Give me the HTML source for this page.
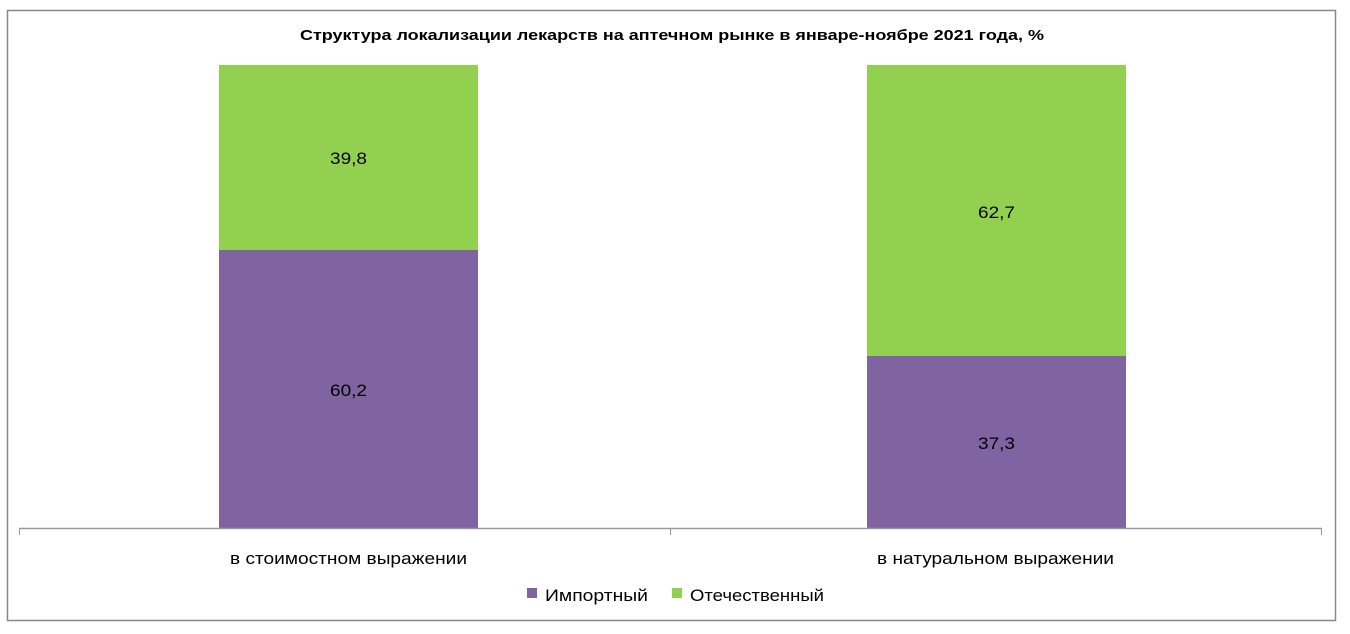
<!DOCTYPE html>
<html><head><meta charset="utf-8"><style>
body{margin:0;background:#fff;}
svg text{font-family:"Liberation Sans",sans-serif;}
</style></head><body>
<svg width="1350" height="629" xmlns="http://www.w3.org/2000/svg">
<rect x="7.5" y="10.5" width="1328" height="610" fill="#fff" stroke="#888" stroke-width="1.5"/>
<text x="300" y="40" textLength="744" lengthAdjust="spacingAndGlyphs" font-size="15" font-weight="bold" fill="#000">Структура локализации лекарств на аптечном рынке в январе-ноябре 2021 года, %</text>
<rect x="219" y="65" width="259" height="185" fill="#92d050"/>
<rect x="219" y="250" width="259" height="278" fill="#8064a2"/>
<rect x="867" y="65" width="259" height="291" fill="#92d050"/>
<rect x="867" y="356" width="259" height="172" fill="#8064a2"/>
<line x1="19" y1="528.5" x2="1322" y2="528.5" stroke="#999" stroke-width="1.5"/>
<line x1="19.5" y1="528" x2="19.5" y2="535" stroke="#999"/>
<line x1="670.5" y1="528" x2="670.5" y2="535" stroke="#999"/>
<line x1="1321.5" y1="528" x2="1321.5" y2="535" stroke="#999"/>
<g font-size="17" fill="#000">
<text x="330" y="164" textLength="37" lengthAdjust="spacingAndGlyphs">39,8</text>
<text x="330" y="396" textLength="37" lengthAdjust="spacingAndGlyphs">60,2</text>
<text x="978" y="218" textLength="37" lengthAdjust="spacingAndGlyphs">62,7</text>
<text x="978" y="449" textLength="37" lengthAdjust="spacingAndGlyphs">37,3</text>
<text x="230" y="564" textLength="237" lengthAdjust="spacingAndGlyphs">в стоимостном выражении</text>
<text x="877" y="564" textLength="237" lengthAdjust="spacingAndGlyphs">в натуральном выражении</text>
<text x="545" y="601" textLength="103" lengthAdjust="spacingAndGlyphs">Импортный</text>
<text x="690" y="601" textLength="134" lengthAdjust="spacingAndGlyphs">Отечественный</text>
</g>
<rect x="527" y="588" width="10" height="10" fill="#8064a2"/>
<rect x="672" y="588" width="10" height="10" fill="#92d050"/>
</svg>
</body></html>
